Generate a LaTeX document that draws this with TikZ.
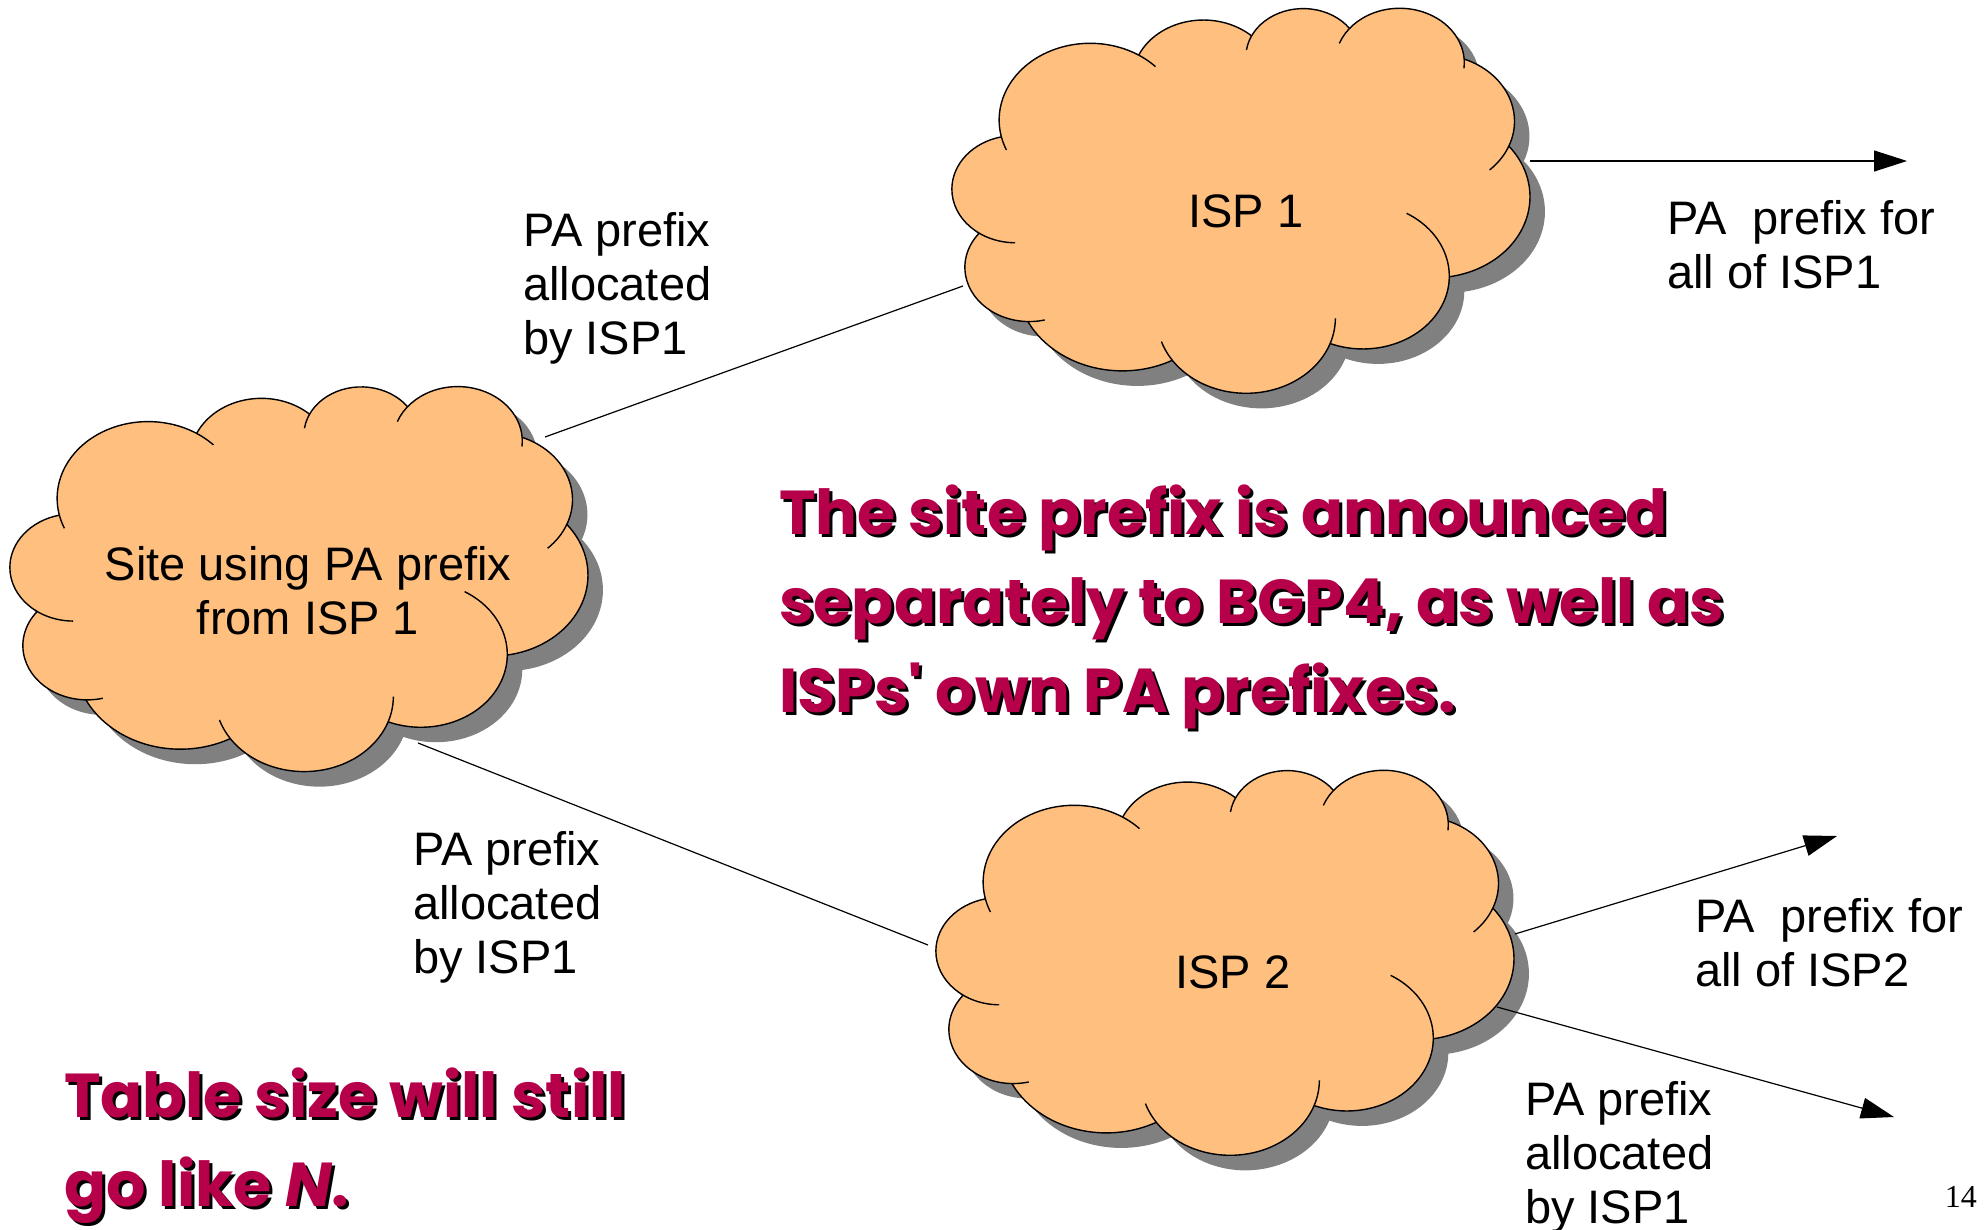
\documentclass[tikz,border=0pt]{standalone}
\usepackage{fontspec}
\setmainfont{Liberation Sans}
\newfontfamily\comicfont{Poppins}
\newfontfamily\serifnum{Liberation Serif}
\usetikzlibrary{calc,arrows.meta}
\definecolor{cloudorange}{RGB}{255,191,127}
\definecolor{shadowgray}{RGB}{128,128,128}
\definecolor{slidered}{RGB}{183,0,74}
\def\cloudpath{(155.2,410.6) arc[start angle=167.3,end angle=302.2,radius=230.1] -- (502.4,165.4) arc[start angle=204.5,end angle=312.7,radius=179.9] -- (788,107.8) arc[start angle=205.8,end angle=323.9,radius=145.1] -- (1035.8,85.3) arc[start angle=219.1,end angle=356.1,radius=163.4] -- (1325.6,177.2) arc[start angle=291.5,end angle=381.7,radius=200.8] -- (1438.6,438.3) arc[start angle=321.3,end angle=440.8,radius=243] -- (1288,830.3) arc[start angle=0.5,end angle=112.2,radius=218.5] -- (987,1031) arc[start angle=19.8,end angle=145.9,radius=225.6] -- (587.5,1081) arc[start angle=61.7,end angle=153.6,radius=266.7] -- (222.3,964.8) arc[start angle=91.2,end angle=218.9,radius=162.8] -- (99.1,699.7) arc[start angle=124.8,end angle=257.2,radius=160.9] -- cycle}
\newcommand\cloudarc[5]{\draw[cloudline] ($(#1,#2)+(#4:#3)$) arc[start angle=#4,end angle=#5,radius=#3];}
\newcommand\drawcloud[2]{%
  \begin{scope}[shift={(#1,#2)},xscale=0.3954,yscale=0.3333]
    \fill[shadowgray] [shift={(38,45)}] \cloudpath;
    \fill[cloudorange] \cloudpath;
    \cloudarc{379.7}{360}{230.1}{157}{315.9}
    \cloudarc{666.1}{240}{179.9}{204.5}{312.7}
    \cloudarc{918.6}{170.9}{145.1}{188.3}{323.9}
    \cloudarc{1162.6}{188.3}{163.4}{200.9}{365.9}
    \cloudarc{1252.1}{364}{200.8}{291.5}{406.6}
    \cloudarc{1249.1}{590.4}{243}{321.3}{440.8}
    \cloudarc{1069.5}{828.5}{218.5}{300.4}{472.2}
    \cloudarc{774.3}{954.4}{225.6}{0.15}{161.8}
    \cloudarc{461.2}{846.1}{266.7}{61.7}{153.6}
    \cloudarc{225.7}{802}{162.8}{76}{218.9}
    \cloudarc{190.9}{567.5}{160.9}{90.3}{257.2}
  \end{scope}}
\tikzset{cloudline/.style={draw=black,line width=1.4pt}}
\begin{document}
\begin{tikzpicture}[x=1pt,y=-1pt,
  lbl/.style={inner sep=0pt,anchor=base west,font=\fontsize{47}{54}\selectfont},
  redtxt/.style={inner sep=0pt,anchor=base west,text=slidered,font=\comicfont\bfseries\fontsize{62}{89}\selectfont},
  redshadow/.style={redtxt,text=black},
  conn/.style={draw=black,line width=1.2pt},
  arr/.style={conn,-{Triangle[length=33pt,width=21pt]}}]
\fill[white] (0,0) rectangle (1986,1230);
\useasboundingbox (0,0) rectangle (1986,1230);
% clouds
\drawcloud{940}{0}
\drawcloud{-2}{378.3}
\drawcloud{924}{762}
% cloud labels
\node[lbl,anchor=base] (isp1) at (1246,228) {ISP 1};
\node[lbl,anchor=base] (isp2) at (1233,988) {ISP 2};
\node[lbl,anchor=base] (site) at (308,580) {\begin{tabular}[t]{@{}c@{}}Site using PA prefix\\from ISP 1\end{tabular}};
% connector end points
\coordinate (s1) at (545,437);
\coordinate (i1w) at (963,286);
\coordinate (s2) at (418,743);
\coordinate (i2w) at (928,945);
\coordinate (i1e) at (1530,161);
\coordinate (o1) at (1907,161);
\coordinate (i2e) at (1515,934);
\coordinate (o2) at (1837,836);
\coordinate (i2se) at (1497,1007);
\coordinate (o3) at (1894,1117);
\draw[conn] (s1) -- (i1w);
\draw[conn] (s2) -- (i2w);
\draw[arr] (i1e) -- (o1);
\draw[arr] (i2e) -- (o2);
\draw[arr] (i2se) -- (o3);
% labels
\node[lbl] (lab1) at (523,247) {\begin{tabular}[t]{@{}l@{}}PA prefix\\allocated\\by ISP1\end{tabular}};
\node[lbl] (lab2) at (413,865) {\begin{tabular}[t]{@{}l@{}}PA prefix\\allocated\\by ISP1\end{tabular}};
\node[lbl] (lab3) at (1667,235) {\begin{tabular}[t]{@{}l@{}}PA\ \ prefix for\\all of ISP1\end{tabular}};
\node[lbl] (lab4) at (1695,932) {\begin{tabular}[t]{@{}l@{}}PA\ \ prefix for\\all of ISP2\end{tabular}};
\node[lbl] (lab5) at (1525,1115) {\begin{tabular}[t]{@{}l@{}}PA prefix\\allocated\\by ISP1\end{tabular}};
\node[inner sep=0pt,anchor=base east,font=\serifnum\fontsize{32}{38}\selectfont] (pg) at (1977,1207) {14};
% red statements
\node[redshadow] (msg1s) at (782,537) {\begin{tabular}[t]{@{}l@{}}The site prefix is announced\\separately to BGP4, as well as\\ISPs' own PA prefixes.\end{tabular}};
\node[redtxt] (msg1) at (779,534) {\begin{tabular}[t]{@{}l@{}}The site prefix is announced\\separately to BGP4, as well as\\ISPs' own PA prefixes.\end{tabular}};
\node[redshadow] (msg2s) at (67,1120) {\begin{tabular}[t]{@{}l@{}}Table size will still\\go like \textit{N}.\end{tabular}};
\node[redtxt] (msg2) at (64,1117) {\begin{tabular}[t]{@{}l@{}}Table size will still\\go like \textit{N}.\end{tabular}};
\end{tikzpicture}
\end{document}
